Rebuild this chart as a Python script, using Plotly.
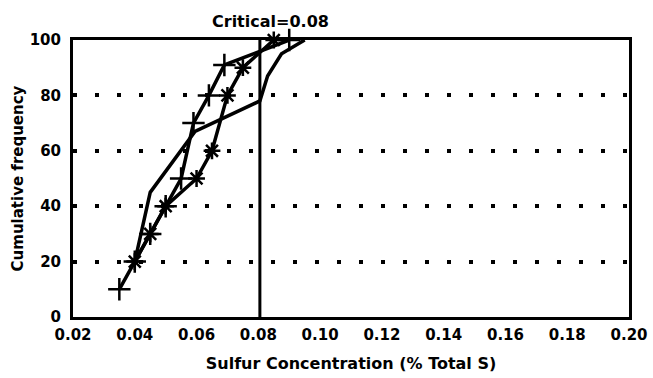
import plotly.graph_objects as go

# Data
x_plus = [0.035, 0.040, 0.045, 0.050, 0.055, 0.059, 0.064, 0.069, 0.090]
y_plus = [10, 20, 30, 40, 50, 70, 80, 91, 100]

x_cross = [0.040, 0.045, 0.050, 0.060, 0.065, 0.070, 0.075, 0.085]
y_cross = [20, 30, 40, 50, 60, 80, 90, 100]

x_plain = [0.040, 0.045, 0.0595, 0.0805, 0.083, 0.0875, 0.095]
y_plain = [20, 45, 67, 78, 87, 95, 100]

critical = 0.0805
critical_label = "Critical=0.08"

x_ticks = [0.02, 0.04, 0.06, 0.08, 0.10, 0.12, 0.14, 0.16, 0.18, 0.20]
y_ticks = [0, 20, 40, 60, 80, 100]

FONT = "DejaVu Sans"

fig = go.Figure()

fig.add_trace(go.Scatter(
    x=x_plain, y=y_plain, mode="lines",
    line=dict(color="black", width=3.5), cliponaxis=False, showlegend=False))

fig.add_trace(go.Scatter(
    x=x_plus, y=y_plus, mode="lines+markers",
    line=dict(color="black", width=3.5),
    marker=dict(symbol="cross-thin", size=16, line=dict(color="black", width=2.5)),
    cliponaxis=False, showlegend=False))

fig.add_trace(go.Scatter(
    x=x_cross, y=y_cross, mode="lines+markers",
    line=dict(color="black", width=3.5),
    marker=dict(symbol="asterisk", size=14, line=dict(color="black", width=2.5)),
    cliponaxis=False, showlegend=False))

# critical vertical line
fig.add_trace(go.Scatter(
    x=[critical, critical], y=[y_ticks[0], y_ticks[-1]], mode="lines",
    line=dict(color="black", width=3), showlegend=False))

fig.add_annotation(
    x=critical, y=1, xref="x", yref="paper", yanchor="bottom",
    xanchor="center", xshift=11, yshift=7, showarrow=False,
    text=critical_label,
    font=dict(family=FONT, size=16, color="black", weight="bold"))

fig.update_xaxes(
    range=[x_ticks[0], x_ticks[-1]], tickvals=x_ticks, tickformat=".2f",
    showgrid=False, zeroline=False,
    showline=True, mirror=True, linewidth=3, linecolor="black",
    ticks="", ticklabelstandoff=2,
    tickfont=dict(family=FONT, size=15, color="black", weight="bold"),
    title=dict(text="Sulfur Concentration (% Total S)", standoff=15,
               font=dict(family=FONT, size=16, color="black", weight="bold")))

fig.update_yaxes(
    range=[y_ticks[0], y_ticks[-1]], tickvals=y_ticks,
    showgrid=True, gridcolor="black", gridwidth=4, griddash="4px,18px",
    zeroline=False,
    showline=True, mirror=True, linewidth=3, linecolor="black",
    ticks="inside", ticklen=4, tickwidth=2, tickcolor="black",
    ticklabelstandoff=6,
    tickfont=dict(family=FONT, size=15, color="black", weight="bold"),
    title=dict(text="Cumulative frequency", standoff=3,
               font=dict(family=FONT, size=15, color="black", weight="bold")))

fig.update_layout(
    width=653, height=378,
    margin=dict(l=73, r=24, t=40, b=61, autoexpand=False),
    paper_bgcolor="white", plot_bgcolor="white")

fig.write_html("out.html")
